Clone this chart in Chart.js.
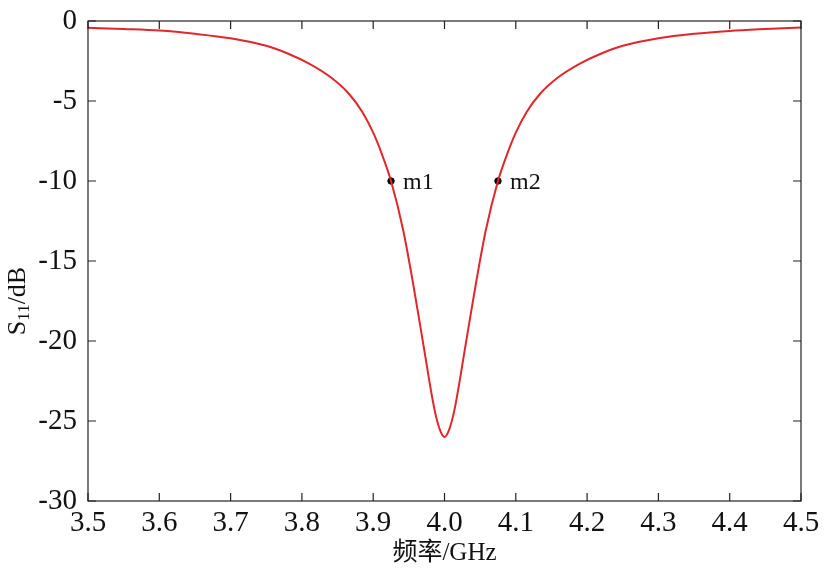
<!DOCTYPE html>
<html>
<head>
<meta charset="utf-8">
<script src="https://cdn.jsdelivr.net/npm/chart.js@4/dist/chart.umd.min.js"></script>
<style>
  html, body { margin: 0; padding: 0; background: #fff; }
  #wrap { width: 827px; height: 578px; }
</style>
</head>
<body>
<div id="wrap"><canvas id="chart_s11"></canvas></div>
<script>
// frequency (GHz) and S11 (dB)
var freqs = [3.50, 3.55, 3.60, 3.65, 3.70, 3.75, 3.78, 3.81, 3.84, 3.865, 3.885, 3.90, 3.912,
             3.925, 3.942, 3.956, 3.97, 3.9865, 3.994, 4.00, 4.006, 4.0135, 4.03, 4.044,
             4.058, 4.075, 4.088, 4.10, 4.115, 4.135, 4.16, 4.19, 4.22, 4.25, 4.30, 4.35,
             4.40, 4.45, 4.50];
var s11 = [-0.42, -0.50, -0.60, -0.80, -1.08, -1.55, -2.03, -2.66, -3.50, -4.50, -5.70, -6.98, -8.30,
           -10.0, -13.06, -16.42, -20.13, -24.4, -25.6, -26.0, -25.6, -24.4, -20.13, -16.42,
           -13.06, -10.0, -8.30, -6.98, -5.70, -4.50, -3.50, -2.66, -2.03, -1.55, -1.08, -0.80,
           -0.62, -0.50, -0.40];

var markerNames = ["m1", "m2"];
var markerFreqs = [3.925, 4.075];
var markerVals = [-10, -10];

var xTicks = [3.5, 3.6, 3.7, 3.8, 3.9, 4.0, 4.1, 4.2, 4.3, 4.4, 4.5];
var yTicks = [0, -5, -10, -15, -20, -25, -30];

var serif = "'Liberation Serif', 'Times New Roman', serif";

var curvePts = freqs.map(function(f, i) { return { x: f, y: s11[i] }; });
var markerPts = markerFreqs.map(function(f, i) { return { x: f, y: markerVals[i] }; });

// inward ticks on all four sides, axis titles and marker names
var framePlugin = {
	id: 'frame',
	afterDraw: function(chart) {
		var ctx = chart.ctx;
		var a = chart.chartArea;
		var xs = chart.scales.x, ys = chart.scales.y;
		ctx.save();
		ctx.strokeStyle = '#222';
		ctx.lineWidth = 1.2;
		ctx.strokeRect(a.left, a.top, a.right - a.left, a.bottom - a.top);
		ctx.beginPath();
		xTicks.forEach(function(v) {
			var px = xs.getPixelForValue(v);
			ctx.moveTo(px, a.bottom); ctx.lineTo(px, a.bottom - 8);
			ctx.moveTo(px, a.top); ctx.lineTo(px, a.top + 8);
		});
		yTicks.forEach(function(v) {
			var py = ys.getPixelForValue(v);
			ctx.moveTo(a.left, py); ctx.lineTo(a.left + 8, py);
			ctx.moveTo(a.right, py); ctx.lineTo(a.right - 8, py);
		});
		ctx.stroke();

		ctx.fillStyle = '#111';
		// marker names
		ctx.font = "24px " + serif;
		ctx.textAlign = 'left';
		ctx.textBaseline = 'middle';
		markerPts.forEach(function(p, i) {
			ctx.fillText(markerNames[i], xs.getPixelForValue(p.x) + 12, ys.getPixelForValue(p.y) + 2);
		});

		// x title
		ctx.font = "25px " + serif + ", 'Noto Sans CJK SC'";
		ctx.textAlign = 'center';
		ctx.textBaseline = 'middle';
		ctx.fillText('频率/GHz', (a.left + a.right) / 2, 553);

		// y title with subscript
		ctx.translate(18, 301);
		ctx.rotate(-Math.PI / 2);
		var big = "26px " + serif, small = "17px " + serif;
		ctx.font = big; var wS = ctx.measureText('S').width;
		ctx.font = small; var w11 = ctx.measureText('11').width;
		ctx.font = big; var wD = ctx.measureText('/dB').width;
		var x0 = -(wS + w11 + wD) / 2;
		ctx.textAlign = 'left';
		ctx.font = big; ctx.fillText('S', x0, 0);
		ctx.font = small; ctx.fillText('11', x0 + wS, 7);
		ctx.font = big; ctx.fillText('/dB', x0 + wS + w11, 0);
		ctx.restore();
	}
};

var chart = new Chart('chart_s11', {
	type: 'line',
	data: {
		datasets: [{
			data: curvePts,
			borderColor: '#e3262b',
			borderWidth: 2,
			pointRadius: 0,
			cubicInterpolationMode: 'monotone'
		}, {
			type: 'scatter',
			data: markerPts,
			backgroundColor: '#000',
			borderColor: '#000',
			pointRadius: 3.2
		}]
	},
	options: {
		responsive: true,
		maintainAspectRatio: false,
		animation: false,
		layout: { padding: { top: 21, right: 26, left: 0, bottom: 0 } },
		plugins: { legend: { display: false }, tooltip: { enabled: false } },
		scales: {
			x: {
				type: 'linear',
				min: 3.5, max: 4.5,
				afterBuildTicks: function(s) { s.ticks = xTicks.map(function(v) { return { value: v }; }); },
				afterFit: function(s) { s.height = 77; },
				grid: { display: false },
				border: { display: false },
				ticks: {
					color: '#111',
					font: { family: serif, size: 29 },
					padding: -3,
					maxRotation: 0,
					callback: function(v) { return v.toFixed(1); }
				}
			},
			y: {
				min: -30, max: 0,
				afterBuildTicks: function(s) { s.ticks = yTicks.map(function(v) { return { value: v }; }); },
				afterFit: function(s) { s.width = 88; },
				grid: { display: false },
				border: { display: false },
				ticks: {
					color: '#111',
					font: { family: serif, size: 29 },
					padding: 3
				}
			}
		}
	},
	plugins: [framePlugin]
});
</script>
</body>
</html>
